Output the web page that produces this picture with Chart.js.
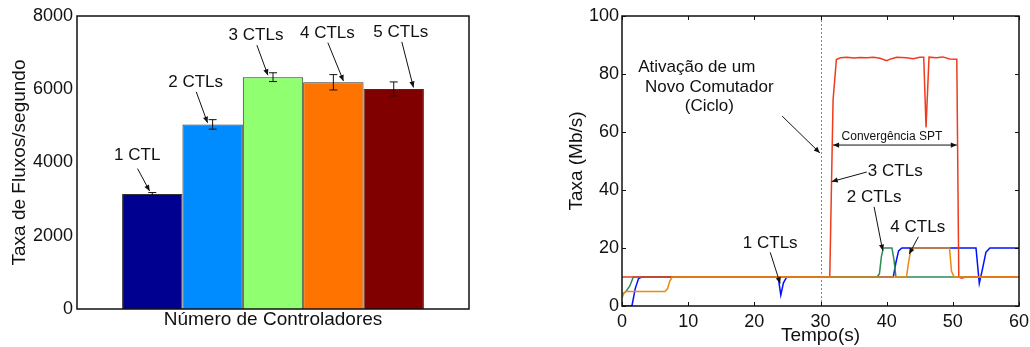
<!DOCTYPE html>
<html>
<head>
<meta charset="utf-8">
<script src="https://cdn.jsdelivr.net/npm/chart.js@4.4.1/dist/chart.umd.min.js"></script>
<style>
  html, body { margin: 0; padding: 0; background: #fff; }
  #wrap { position: relative; width: 1030px; height: 347px; overflow: hidden; }
  .panel { position: absolute; top: 0; }
</style>
</head>
<body>
<div id="wrap">
  <div class="panel" style="left:0"><canvas id="barChart" width="520" height="347"></canvas></div>
  <div class="panel" style="left:555px"><canvas id="lineChart" width="495" height="347"></canvas></div>
</div>
<script>
const FONT = '"Liberation Sans", Arial, Helvetica, sans-serif';

// --- left panel data
const barLabels = ['1 CTL', '2 CTLs', '3 CTLs', '4 CTLs', '5 CTLs'];
const barValues = [3140, 5040, 6330, 6190, 6010];
const barErrors = [40, 130, 120, 210, 190];
const barTicks = [0, 2000, 4000, 6000, 8000];

// --- right panel data  ([tempo, taxa])
const timeTicks = [0, 10, 20, 30, 40, 50, 60];
const rateTicks = [0, 20, 40, 60, 80, 100];
const blueSeries = [[0,0],[1.5,0],[2.0,6],[2.5,9.5],[3,10],[23.6,10],[24,3.8],[24.4,8],[24.9,10],[41,10],[41.4,15],[41.8,19],[42.3,20],
  [53.5,20],[54,7.8],[54.5,13],[55,18.5],[55.6,20],[60,20]];
const greenSeries = [[0,4],[0.6,5],[1.2,7],[1.7,10],[38.5,10],[38.9,11],[39.2,17],[39.5,20],[40.8,20],[41.1,16],[41.4,10],[60,10]];
const redSeries = [[0,10],[31.4,10],[31.9,71],[32.4,85],[33,85.6],[34,85.8],[35,85.5],[36,85.7],[37,85.6],[38,85.8],[39,85.4],[40,84.6],
  [40.6,85.2],[41.5,85.8],[43,85.6],[44,85.3],[45,85.8],[45.6,85.8],[45.95,61.6],[46.4,85.8],[47.5,85.6],[48.5,85.9],[49.5,85.2],
  [50.6,85.1],[50.9,10],[51.3,9.6],[52,10],[60,10]];
const orangeSeries = [[0,2.8],[0.3,4.5],[0.6,5],[6.5,5],[6.9,6],[7.2,8.5],[7.6,10],[43,10],[43.3,15],[43.7,20],[49.5,20],[49.8,12],
  [50.2,10],[60,10]];

// annotations: left panel offsets relative to each bar top
const barNotes = [
  { dx: -15, dy: -33.7, a: [-14.7, -25.4, -2.7, -3] },
  { dx: -17, dy: -37, a: [-16.4, -32.6, -5.1, -1.6] },
  { dx: -17, dy: -37, a: [-16.1, -32, -5.1, -2] },
  { dx: -6, dy: -44, a: [-5.5, -39.6, 10.1, -1.3] },
  { dx: 7, dy: -51.4, a: [8.1, -47, 19.7, -1.4] }
];
// annotations: right panel, in data units
const lineTexts = [
  ['Ativação de um', 11.3, 80.8, 17], ['Novo Comutador', 13.2, 73.7, 17], ['(Ciclo)', 13.2, 67.2, 17],
  ['Convergência SPT', 40.8, 57.2, 12], ['3 CTLs', 41.3, 44.8, 17], ['2 CTLs', 38.1, 36, 17],
  ['4 CTLs', 44.7, 25.4, 17], ['1 CTLs', 22.4, 19.9, 17]
];
const lineArrows = [[24.2,65.5,29.9,52.8],[37,46.2,31.7,42.9],[38.1,34.2,39.4,19.1],[44.8,23.9,43.4,17.9],[22.4,18.5,23.9,7.8]];

function arrowHead(ctx, x1, y1, x2, y2) {
  const ang = Math.atan2(y2 - y1, x2 - x1), len = 6, w = 2.6;
  ctx.beginPath();
  ctx.moveTo(x2, y2);
  ctx.lineTo(x2 - len * Math.cos(ang) + w * Math.sin(ang), y2 - len * Math.sin(ang) - w * Math.cos(ang));
  ctx.lineTo(x2 - len * Math.cos(ang) - w * Math.sin(ang), y2 - len * Math.sin(ang) + w * Math.cos(ang));
  ctx.closePath();
  ctx.fill();
}

function arrow(ctx, x1, y1, x2, y2) {
  ctx.beginPath();
  ctx.moveTo(x1, y1);
  ctx.lineTo(x2, y2);
  ctx.stroke();
  arrowHead(ctx, x1, y1, x2, y2);
}

function drawBox(chart) {
  const { ctx, chartArea: a } = chart;
  ctx.save();
  ctx.strokeStyle = '#111';
  ctx.lineWidth = 1.5;
  ctx.strokeRect(a.left, a.top, a.right - a.left, a.bottom - a.top);
  ctx.restore();
}

const fixTicks = arr => scale => { scale.ticks = arr.map(v => ({ value: v })); };
const noGrid = { display: false, drawTicks: false };

// ---------- bar chart
const barPlugin = {
  id: 'barExtras',
  afterDatasetsDraw(chart) {
    const ctx = chart.ctx, y = chart.scales.y;
    ctx.save();
    ctx.strokeStyle = '#111';
    ctx.fillStyle = '#111';
    ctx.lineWidth = 1;
    barValues.forEach((v, i) => {
      const bar = chart.getDatasetMeta(i).data[0];
      const t = y.getPixelForValue(v + barErrors[i]), b = y.getPixelForValue(v - barErrors[i]);
      ctx.beginPath();
      ctx.moveTo(bar.x, t); ctx.lineTo(bar.x, b);
      ctx.moveTo(bar.x - 4, t); ctx.lineTo(bar.x + 4, t);
      ctx.moveTo(bar.x - 4, b); ctx.lineTo(bar.x + 4, b);
      ctx.stroke();

      const n = barNotes[i];
      ctx.font = '17px ' + FONT;
      ctx.textAlign = 'center';
      ctx.textBaseline = 'alphabetic';
      ctx.fillText(barLabels[i], bar.x + n.dx, bar.y + n.dy);
      arrow(ctx, bar.x + n.a[0], bar.y + n.a[1], bar.x + n.a[2], bar.y + n.a[3]);
    });
    ctx.restore();
    drawBox(chart);
  }
};

new Chart(document.getElementById('barChart'), {
  type: 'bar',
  data: {
    labels: [''],
    datasets: barLabels.map((l, i) => ({
      label: l,
      data: [barValues[i]],
      backgroundColor: ['#000090', '#008cff', '#90ff70', '#ff7300', '#800000'][i],
      borderColor: '#333',
      borderWidth: 1,
      categoryPercentage: 0.77,
      barPercentage: 1.0
    }))
  },
  options: {
    responsive: false,
    animation: false,
    layout: { padding: { left: 0, right: 51, top: 16, bottom: 0 } },
    plugins: { legend: { display: false }, tooltip: { enabled: false } },
    scales: {
      x: {
        grid: noGrid,
        border: { display: false },
        ticks: { display: false },
        title: { display: true, text: 'Número de Controladores', color: '#111',
                 font: { family: FONT, size: 19 }, padding: { top: 0, bottom: 16 } },
        afterFit: s => { s.height = 38; }
      },
      y: {
        min: 0, max: 8000,
        afterBuildTicks: fixTicks(barTicks),
        grid: noGrid,
        border: { display: false },
        ticks: { color: '#111', font: { family: FONT, size: 18 }, padding: 4, callback: v => String(v) },
        title: { display: true, text: 'Taxa de Fluxos/segundo', color: '#111',
                 font: { family: FONT, size: 19 }, padding: { top: 8, bottom: 0 } },
        afterFit: s => { s.width = 77; }
      }
    }
  },
  plugins: [barPlugin]
});

// ---------- line chart
const linePlugin = {
  id: 'lineExtras',
  beforeDatasetsDraw(chart) {
    const { ctx, scales: { x, y } } = chart;
    ctx.save();
    ctx.strokeStyle = '#888';
    ctx.lineWidth = 1;
    ctx.setLineDash([2, 2]);
    ctx.beginPath();
    ctx.moveTo(Math.round(x.getPixelForValue(30)) + 0.5, y.getPixelForValue(0));
    ctx.lineTo(Math.round(x.getPixelForValue(30)) + 0.5, y.getPixelForValue(100));
    ctx.stroke();
    ctx.restore();
  },
  afterDatasetsDraw(chart) {
    const { ctx, chartArea: a, scales: { x, y } } = chart;
    ctx.save();
    // inward ticks on every side
    ctx.strokeStyle = '#111';
    ctx.lineWidth = 1;
    ctx.beginPath();
    timeTicks.forEach(t => {
      const px = Math.round(x.getPixelForValue(t)) + 0.5;
      ctx.moveTo(px, a.bottom); ctx.lineTo(px, a.bottom - 4);
      ctx.moveTo(px, a.top); ctx.lineTo(px, a.top + 4);
    });
    rateTicks.forEach(v => {
      const py = Math.round(y.getPixelForValue(v)) + 0.5;
      ctx.moveTo(a.left, py); ctx.lineTo(a.left + 4, py);
      ctx.moveTo(a.right, py); ctx.lineTo(a.right - 4, py);
    });
    ctx.stroke();

    ctx.fillStyle = '#111';
    ctx.textAlign = 'center';
    ctx.textBaseline = 'alphabetic';
    lineTexts.forEach(([txt, tx, ty, size]) => {
      ctx.font = size + 'px ' + FONT;
      ctx.fillText(txt, x.getPixelForValue(tx), y.getPixelForValue(ty));
    });
    lineArrows.forEach(([x1, y1, x2, y2]) => {
      arrow(ctx, x.getPixelForValue(x1), y.getPixelForValue(y1), x.getPixelForValue(x2), y.getPixelForValue(y2));
    });
    // double headed arrow for convergence span
    const cy = y.getPixelForValue(55.5), cx1 = x.getPixelForValue(31.9), cx2 = x.getPixelForValue(50.6);
    arrow(ctx, cx1, cy, cx2, cy);
    arrowHead(ctx, cx2, cy, cx1, cy);
    ctx.restore();
    drawBox(chart);
  }
};

const toXY = arr => arr.map(([t, v]) => ({ x: t, y: v }));
const lineSet = (data, color, order) => ({
  data: toXY(data), borderColor: color, borderWidth: 1.5, pointRadius: 0, tension: 0, fill: false, order
});

new Chart(document.getElementById('lineChart'), {
  type: 'line',
  data: {
    datasets: [
      lineSet(orangeSeries, '#ea8a10', 0),
      lineSet(redSeries, '#ee3c1c', 1),
      lineSet(greenSeries, '#2e8b57', 2),
      lineSet(blueSeries, '#0010ff', 3)
    ]
  },
  options: {
    responsive: false,
    animation: false,
    layout: { padding: { left: 0, right: 31, top: 16, bottom: 0 } },
    plugins: { legend: { display: false }, tooltip: { enabled: false } },
    scales: {
      x: {
        type: 'linear', min: 0, max: 60,
        afterBuildTicks: fixTicks(timeTicks),
        grid: noGrid,
        border: { display: false },
        ticks: { color: '#111', font: { family: FONT, size: 18 }, padding: 5, maxRotation: 0 },
        title: { display: true, text: 'Tempo(s)', color: '#111',
                 font: { family: FONT, size: 19 }, padding: { top: 0, bottom: 0 } },
        afterFit: s => { s.height = 41; }
      },
      y: {
        min: 0, max: 100,
        afterBuildTicks: fixTicks(rateTicks),
        grid: noGrid,
        border: { display: false },
        ticks: { color: '#111', font: { family: FONT, size: 18 }, padding: 3 },
        title: { display: true, text: 'Taxa (Mb/s)', color: '#111',
                 font: { family: FONT, size: 19 }, padding: { top: 10, bottom: 0 } },
        afterFit: s => { s.width = 67; }
      }
    }
  },
  plugins: [linePlugin]
});
</script>
</body>
</html>
